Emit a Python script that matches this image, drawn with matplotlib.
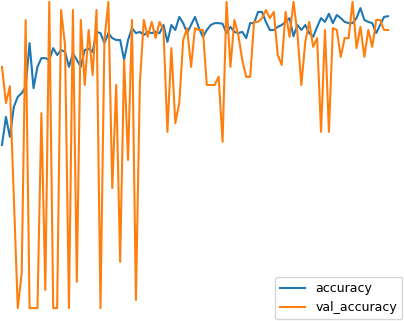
import matplotlib
matplotlib.use("Agg")
import matplotlib.pyplot as plt

accuracy = [0.768, 0.813, 0.781, 0.829, 0.845, 0.851, 0.861, 0.931, 0.859, 0.893,
            0.907, 0.907, 0.904, 0.923, 0.912, 0.920, 0.917, 0.893, 0.915, 0.904,
            0.893, 0.920, 0.922, 0.917, 0.949, 0.947, 0.931, 0.947, 0.939, 0.936,
            0.936, 0.904, 0.936, 0.955, 0.947, 0.949, 0.944, 0.949, 0.947, 0.949,
            0.947, 0.960, 0.933, 0.960, 0.952, 0.973, 0.963, 0.947, 0.960, 0.973,
            0.955, 0.941, 0.952, 0.960, 0.963, 0.963, 0.962, 0.947, 0.957, 0.949,
            0.947, 0.949, 0.939, 0.963, 0.963, 0.981, 0.981, 0.965, 0.952, 0.952,
            0.957, 0.960, 0.965, 0.971, 0.942, 0.960, 0.952, 0.960, 0.947, 0.941,
            0.957, 0.971, 0.965, 0.978, 0.963, 0.976, 0.971, 0.965, 0.963, 0.963,
            0.971, 0.987, 0.968, 0.965, 0.963, 0.947, 0.960, 0.973, 0.974]

val_accuracy = [0.893, 0.835, 0.862, 0.685, 0.507, 0.563, 0.968, 0.507, 0.507, 0.507,
                0.819, 0.536, 0.997, 0.507, 0.507, 0.984, 0.928, 0.507, 0.984, 0.549,
                0.968, 0.864, 0.952, 0.880, 0.984, 0.507, 0.936, 0.997, 0.699, 0.864,
                0.581, 0.904, 0.744, 0.968, 0.520, 0.867, 0.968, 0.941, 0.965, 0.939,
                0.965, 0.952, 0.789, 0.923, 0.803, 0.835, 0.936, 0.955, 0.893, 0.955,
                0.952, 0.952, 0.864, 0.864, 0.864, 0.877, 0.773, 0.997, 0.893, 0.968,
                0.944, 0.904, 0.877, 0.877, 0.965, 0.965, 0.971, 0.984, 0.971, 0.981,
                0.912, 0.896, 0.981, 0.941, 0.997, 0.947, 0.864, 0.933, 0.965, 0.925,
                0.939, 0.789, 0.952, 0.789, 0.955, 0.952, 0.909, 0.939, 0.939, 0.997,
                0.923, 0.957, 0.909, 0.952, 0.925, 0.968, 0.968, 0.952, 0.952]

epochs = list(range(len(accuracy)))

fig = plt.figure(figsize=(4.04, 3.21), dpi=100)
ax = fig.add_axes([0, 0, 1, 1])
ax.plot(epochs, accuracy, label="accuracy", color="#1f77b4", linewidth=1.5)
ax.plot(epochs, val_accuracy, label="val_accuracy", color="#ff7f0e", linewidth=1.5)
ax.set_xlim(-0.508, 102.06)
ax.set_ylim(0.4864, 1.0)
ax.axis("off")
ax.legend(loc="lower right", borderaxespad=0.15, fontsize=9)
fig.savefig("out.png", dpi=100)
